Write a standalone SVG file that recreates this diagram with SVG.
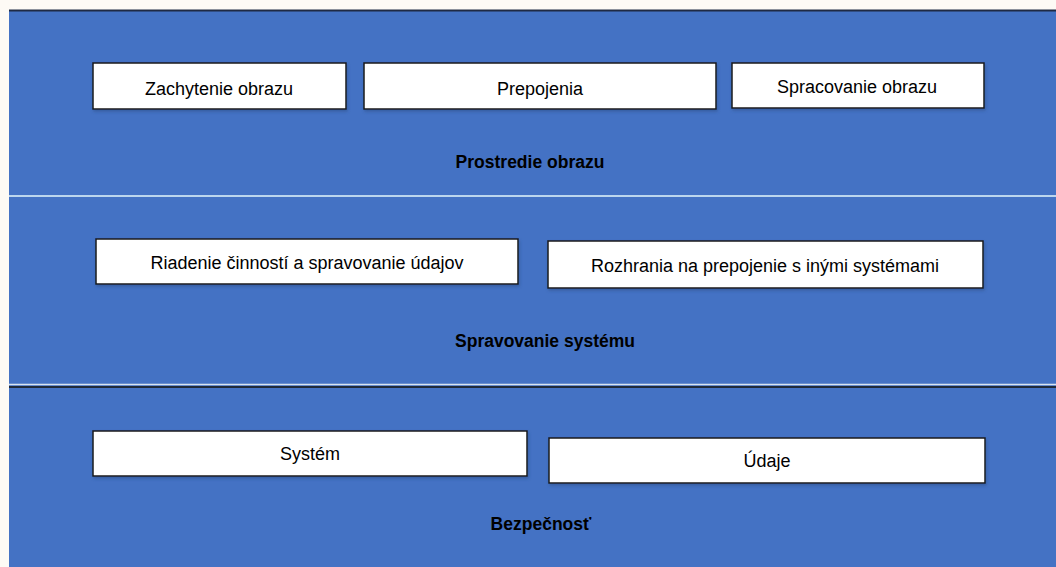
<svg xmlns="http://www.w3.org/2000/svg" width="1056" height="567" viewBox="0 0 1056 567">
<style>
.band{fill:#4472C4}
.box{fill:#ffffff;stroke:#1a1a1a;stroke-width:1.5}
.lbl{font-family:"Liberation Sans",Arial,sans-serif;font-size:18px;fill:#000;text-anchor:middle}
.ttl{font-family:"Liberation Sans",Arial,sans-serif;font-size:17.5px;font-weight:bold;fill:#000;text-anchor:middle}
</style>
<defs>
<filter id="sh" x="-5%" y="-20%" width="110%" height="150%">
<feDropShadow dx="1" dy="2" stdDeviation="1.5" flood-color="#2a4a80" flood-opacity="0.5"/>
</filter>
</defs>
<rect x="0" y="0" width="1056" height="567" fill="#fdfaf5"/>
<g id="layer-prostredie">
<rect class="band" x="9" y="10" width="1047" height="186"/>
<line x1="9" y1="10.5" x2="1056" y2="10.5" stroke="#1f2a44" stroke-width="2"/>
<text class="ttl" x="530" y="168">Prostredie obrazu</text>
</g>
<g id="layer-spravovanie">
<rect class="band" x="9" y="196" width="1047" height="189"/>
<line x1="9" y1="196" x2="1056" y2="196" stroke="#bcd6ee" stroke-width="2"/>
<text class="ttl" x="545" y="347">Spravovanie systému</text>
</g>
<g id="layer-bezpecnost">
<rect class="band" x="9" y="385" width="1047" height="182"/>
<line x1="9" y1="384.5" x2="1056" y2="384.5" stroke="#d8e4f0" stroke-width="1.5"/>
<line x1="9" y1="387" x2="1056" y2="387" stroke="#1f2a3a" stroke-width="2"/>
<text class="ttl" x="541" y="530">Bezpečnosť</text>
</g>
<g id="node-zachytenie">
<rect class="box" x="93" y="63" width="253" height="46" filter="url(#sh)"/>
<text class="lbl" x="219" y="95">Zachytenie obrazu</text>
</g>
<g id="node-prepojenia">
<rect class="box" x="364" y="63" width="352" height="46" filter="url(#sh)"/>
<text class="lbl" x="540" y="95">Prepojenia</text>
</g>
<g id="node-spracovanie">
<rect class="box" x="732" y="63" width="252" height="45" filter="url(#sh)"/>
<text class="lbl" x="857" y="93">Spracovanie obrazu</text>
</g>
<g id="node-riadenie">
<rect class="box" x="96" y="239" width="422" height="45" filter="url(#sh)"/>
<text class="lbl" x="307" y="269">Riadenie činností a spravovanie  údajov</text>
</g>
<g id="node-rozhrania">
<rect class="box" x="548" y="241" width="435" height="47" filter="url(#sh)"/>
<text class="lbl" x="765" y="272">Rozhrania na prepojenie s inými systémami</text>
</g>
<g id="node-system">
<rect class="box" x="93" y="431" width="434" height="45" filter="url(#sh)"/>
<text class="lbl" x="310" y="460">Systém</text>
</g>
<g id="node-udaje">
<rect class="box" x="549" y="438" width="436" height="45" filter="url(#sh)"/>
<text class="lbl" x="767" y="467">Údaje</text>
</g>
<g id="connectors"></g>
</svg>
